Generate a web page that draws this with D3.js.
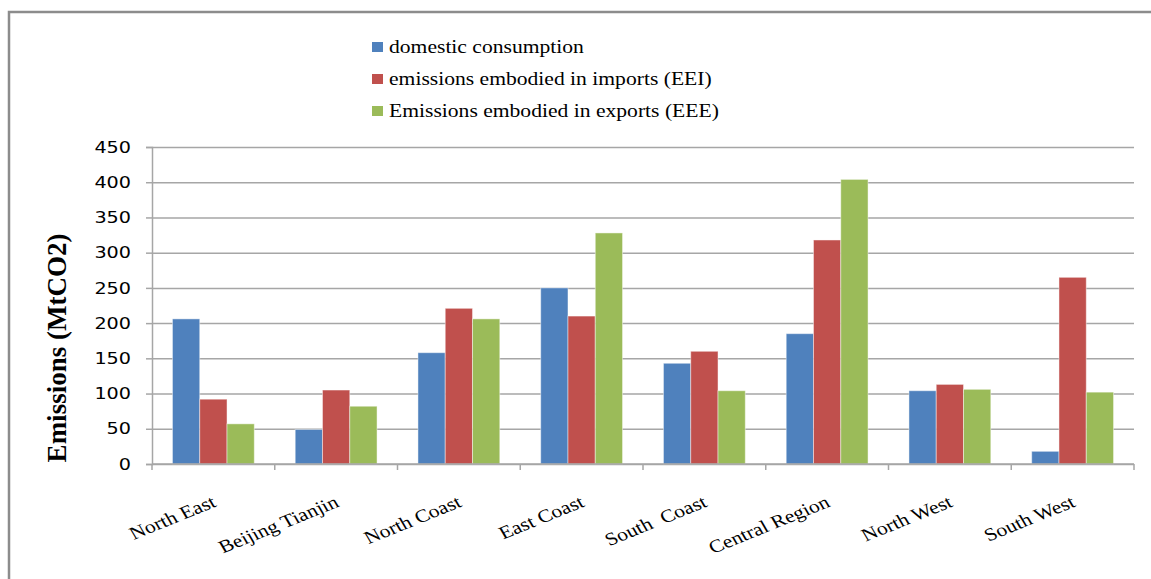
<!DOCTYPE html>
<html>
<head>
<meta charset="utf-8">
<script src="https://cdn.jsdelivr.net/npm/d3@7"></script>
<style>
    body { margin: 0; background: #fff; }
</style>
</head>
<body>
<div id="chart"></div>
<script>
// values (MtCO2)
let regions = ["North East", "Beijing Tianjin", "North Coast", "East Coast", "South  Coast", "Central Region", "North West", "South West"];
let seriesNames = ["domestic consumption", "emissions embodied in imports (EEI)", "Emissions embodied in exports (EEE)"];
let domestic = [206, 49, 158, 250, 143, 185, 104, 18];
let imports = [92, 105, 221, 210, 160, 318, 113, 265];
let exportsEEE = [57, 82, 206, 328, 104, 404, 106, 102];
let yTicks = [0, 50, 100, 150, 200, 250, 300, 350, 400, 450];
let colors = ["#4F81BD", "#C0504D", "#9BBB59"];

let seriesValues = [domestic, imports, exportsEEE];
let data = regions.map((r, i) => ({
    region: r,
    values: seriesNames.map((s, j) => ({ key: s, value: seriesValues[j][i] }))
}));

// the original picture is stretched horizontally a bit
let sx = 1.2;

let W = 1151, H = 579;
let margin = { top: 147, right: 17, bottom: 115, left: 152 },
    width = W - margin.left - margin.right,
    height = H - margin.top - margin.bottom;

let root = d3.select("#chart").append("svg")
    .attr("width", W)
    .attr("height", H);

// frame of the chart area
root.append("path")
    .attr("d", `M9,${H} V12 H${W}`)
    .attr("fill", "none")
    .attr("stroke", "#8c8c8c")
    .attr("stroke-width", 2.5);

let svg = root.append("g")
    .attr("transform", `translate(${margin.left},${margin.top})`);

let x0 = d3.scaleBand()
    .domain(regions)
    .range([0, width])
    .padding(0);

let x1 = d3.scaleBand()
    .domain(seriesNames)
    .range([0, x0.bandwidth()])
    .paddingInner(0)
    .paddingOuter(0.75);

let y = d3.scaleLinear()
    .domain([0, 450])
    .range([height, 0]);

let color = d3.scaleOrdinal().domain(seriesNames).range(colors);

// grid
svg.append("g")
    .attr("class", "grid")
    .call(d3.axisLeft(y).tickValues(yTicks).tickSize(-width).tickFormat(""))
    .call(g => g.select(".domain").remove())
    .call(g => g.selectAll("line").attr("stroke", "#a6a6a6").attr("stroke-width", 1.5));

// y axis
svg.append("g")
    .call(d3.axisLeft(y).tickValues(yTicks).tickSize(6).tickPadding(11.5))
    .call(g => g.select(".domain").attr("stroke", "#a6a6a6").attr("stroke-width", 1.5))
    .call(g => g.selectAll("line").attr("stroke", "#a6a6a6").attr("stroke-width", 1.5))
    .call(g => g.selectAll("text")
        .attr("transform", `scale(${sx},1)`)
        .style("font-family", "'DejaVu Sans', sans-serif")
        .style("font-size", "16px")
        .attr("fill", "#000"));

// bars
let groups = svg.selectAll(".region")
    .data(data)
    .enter()
    .append("g")
    .attr("class", "region")
    .attr("transform", d => `translate(${x0(d.region)},0)`);

groups.selectAll("rect")
    .data(d => d.values)
    .enter()
    .append("rect")
    .attr("x", d => x1(d.key))
    .attr("y", d => y(d.value))
    .attr("width", x1.bandwidth())
    .attr("height", d => height - y(d.value))
    .attr("fill", d => color(d.key))
    .attr("stroke", "#fff")
    .attr("stroke-opacity", 0.45)
    .attr("stroke-width", 1);

// x axis line and boundary ticks
svg.append("line")
    .attr("x1", 0).attr("x2", width)
    .attr("y1", height).attr("y2", height)
    .attr("stroke", "#a6a6a6")
    .attr("stroke-width", 1.5);

svg.selectAll(".xtick")
    .data(d3.range(regions.length + 1))
    .enter()
    .append("line")
    .attr("class", "xtick")
    .attr("x1", i => i * x0.step()).attr("x2", i => i * x0.step())
    .attr("y1", height).attr("y2", height + 6)
    .attr("stroke", "#a6a6a6")
    .attr("stroke-width", 1.5);

// rotated category labels
svg.selectAll(".xlabel")
    .data(regions)
    .enter()
    .append("text")
    .attr("class", "xlabel")
    .attr("transform", d => `translate(${x0(d) + x0.bandwidth() / 2 + 4},${height + 42}) scale(${sx},1) rotate(-26)`)
    .attr("text-anchor", "end")
    .style("white-space", "pre")
    .style("font-family", "'Liberation Serif', 'Times New Roman', serif")
    .style("font-size", "18px")
    .text(d => d);

// y axis title
root.append("text")
    .attr("transform", `translate(66,348) rotate(-90)`)
    .attr("text-anchor", "middle")
    .style("font-family", "'Liberation Serif', 'Times New Roman', serif")
    .style("font-size", "27px")
    .style("font-weight", "bold")
    .text("Emissions (MtCO2)");

// legend
let legend = root.append("g")
    .selectAll("g")
    .data(seriesNames)
    .enter()
    .append("g")
    .attr("transform", (d, i) => `translate(372,${47 + i * 32})`);

legend.append("rect")
    .attr("x", 0)
    .attr("y", -5)
    .attr("width", 11)
    .attr("height", 10)
    .attr("fill", d => color(d));

legend.append("text")
    .attr("transform", `translate(17,0) scale(${sx},1)`)
    .attr("dy", "0.35em")
    .style("font-family", "'Liberation Serif', 'Times New Roman', serif")
    .style("font-size", "18px")
    .text(d => d);
</script>
</body>
</html>
